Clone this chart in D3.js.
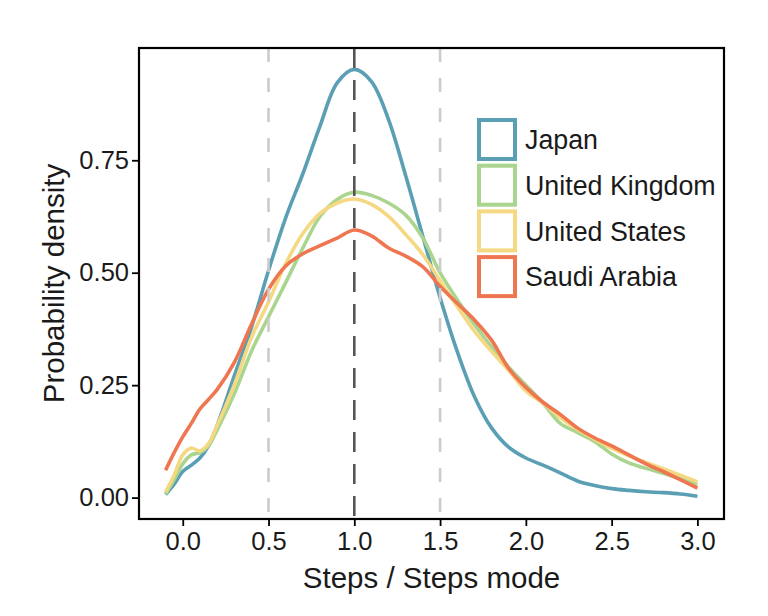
<!DOCTYPE html>
<html>
<head>
<meta charset="utf-8">
<script src="https://cdn.jsdelivr.net/npm/d3@7"></script>
<style>
  html, body { margin: 0; padding: 0; background: #ffffff; }
  svg { display: block; }
  text { font-family: "Liberation Sans", Arial, Helvetica, sans-serif; fill: #1a1a1a; }
</style>
</head>
<body>
<svg id="chart" width="768" height="616"></svg>
<script>
// ---- data ----
const xValues = [-0.1, -0.05, 0, 0.05, 0.1, 0.15, 0.2, 0.3, 0.4, 0.5, 0.6, 0.7, 0.8, 0.9, 1.0,
  1.1, 1.2, 1.3, 1.4, 1.5, 1.6, 1.7, 1.8, 1.9, 2.0, 2.1, 2.2, 2.3, 2.4, 2.5, 2.6, 2.7, 2.8, 2.9, 3.0];

const japan = [0.007, 0.03, 0.058, 0.072, 0.088, 0.115, 0.16, 0.27, 0.378, 0.505, 0.622, 0.72, 0.826, 0.922, 0.952,
  0.925, 0.84, 0.715, 0.58, 0.445, 0.325, 0.225, 0.155, 0.112, 0.088, 0.072, 0.055, 0.037, 0.027, 0.02, 0.016, 0.013, 0.011, 0.008, 0.003];

const unitedKingdom = [0.008, 0.04, 0.075, 0.095, 0.10, 0.115, 0.15, 0.23, 0.325, 0.402, 0.478, 0.555, 0.625, 0.663, 0.679,
  0.672, 0.655, 0.628, 0.577, 0.5, 0.44, 0.385, 0.335, 0.29, 0.25, 0.21, 0.165, 0.145, 0.125, 0.097, 0.077, 0.065, 0.054, 0.042, 0.029];

const unitedStates = [0.012, 0.05, 0.095, 0.11, 0.104, 0.12, 0.16, 0.25, 0.355, 0.435, 0.52, 0.587, 0.632, 0.655, 0.664,
  0.652, 0.625, 0.585, 0.54, 0.482, 0.425, 0.37, 0.325, 0.283, 0.237, 0.21, 0.178, 0.152, 0.13, 0.11, 0.093, 0.078, 0.064, 0.05, 0.035];

const saudiArabia = [0.061, 0.10, 0.135, 0.165, 0.197, 0.218, 0.24, 0.30, 0.385, 0.463, 0.515, 0.542, 0.56, 0.577, 0.595,
  0.582, 0.555, 0.537, 0.513, 0.47, 0.432, 0.395, 0.35, 0.287, 0.245, 0.212, 0.185, 0.155, 0.133, 0.115, 0.095, 0.075, 0.058, 0.04, 0.021];

const seriesNames = ["Japan", "United Kingdom", "United States", "Saudi Arabia"];
const seriesColors = ["#5b9fb4", "#aad58e", "#f5d882", "#ee7650"];
const xTicks = [0.0, 0.5, 1.0, 1.5, 2.0, 2.5, 3.0];
const yTicks = [0.00, 0.25, 0.50, 0.75];
const refLines = [0.5, 1.0, 1.5];

// ---- layout ----
const svg = d3.select("#chart");
const panel = { left: 139, right: 724, top: 48, bottom: 519 };

const allSeries = [japan, unitedKingdom, unitedStates, saudiArabia];
const xExt = d3.extent(xValues);
const yExt = [0, d3.max(allSeries.flat())];
const xPad = (xExt[1] - xExt[0]) * 0.05;
const yPad = (yExt[1] - yExt[0]) * 0.05;

const x = d3.scaleLinear().domain([xExt[0] - xPad, xExt[1] + xPad]).range([panel.left, panel.right]);
const y = d3.scaleLinear().domain([yExt[0] - yPad, yExt[1] + yPad]).range([panel.bottom, panel.top]);

svg.append("rect").attr("width", 768).attr("height", 616).attr("fill", "#ffffff");

// curves
const line = d3.line()
  .x(d => x(d[0]))
  .y(d => y(d[1]))
  .curve(d3.curveCatmullRom.alpha(0.5));

const gCurves = svg.append("g");
allSeries.forEach((vals, i) => {
  gCurves.append("path")
    .datum(xValues.map((xv, j) => [xv, vals[j]]))
    .attr("fill", "none")
    .attr("stroke", seriesColors[i])
    .attr("stroke-width", 3.6)
    .attr("stroke-linejoin", "round")
    .attr("stroke-linecap", "butt")
    .attr("d", line);
});

// reference vertical dashed lines
svg.append("g").selectAll("line").data(refLines).join("line")
  .attr("x1", d => x(d)).attr("x2", d => x(d))
  .attr("y1", panel.top).attr("y2", panel.bottom)
  .attr("stroke", d => d === 1.0 ? "#555555" : "#cccccc")
  .attr("stroke-width", 2.6)
  .attr("stroke-dasharray", d => d === 1.0 ? "20,12" : "14,16");

// panel border
svg.append("rect")
  .attr("x", panel.left).attr("y", panel.top)
  .attr("width", panel.right - panel.left).attr("height", panel.bottom - panel.top)
  .attr("fill", "none").attr("stroke", "#000000").attr("stroke-width", 2.2);

// axes
const xAxis = d3.axisBottom(x).tickValues(xTicks).tickFormat(d3.format(".1f")).tickSizeOuter(0).tickSizeInner(7).tickPadding(6);
const yAxis = d3.axisLeft(y).tickValues(yTicks).tickFormat(d3.format(".2f")).tickSizeOuter(0).tickSizeInner(7).tickPadding(3);

const gx = svg.append("g").attr("transform", `translate(0,${panel.bottom})`).call(xAxis);
const gy = svg.append("g").attr("transform", `translate(${panel.left},0)`).call(yAxis);
[gx, gy].forEach(g => {
  g.select(".domain").remove();
  g.selectAll(".tick line").attr("stroke", "#000").attr("stroke-width", 1.8);
  g.selectAll(".tick text").attr("fill", "#1a1a1a").style("font-size", "25.5px")
    .style("font-family", "'Liberation Sans', Arial, Helvetica, sans-serif");
});

// axis titles
svg.append("text")
  .attr("x", (panel.left + panel.right) / 2).attr("y", 588)
  .attr("text-anchor", "middle").style("font-size", "29.5px")
  .text("Steps / Steps mode");

svg.append("text")
  .attr("transform", `translate(64,${(panel.top + panel.bottom) / 2}) rotate(-90)`)
  .attr("text-anchor", "middle").style("font-size", "29.5px")
  .text("Probability density");

// legend
const legend = svg.append("g").attr("transform", "translate(477,118)");
const rowH = 45.7;
seriesNames.forEach((name, i) => {
  const gRow = legend.append("g").attr("transform", `translate(0,${i * rowH})`);
  gRow.append("rect")
    .attr("x", 2).attr("y", 2).attr("width", 36).attr("height", 39)
    .attr("fill", "#ffffff").attr("stroke", seriesColors[i]).attr("stroke-width", 4);
  gRow.append("text")
    .attr("x", 48).attr("y", 21.5).attr("dy", "0.36em")
    .style("font-size", "26.8px")
    .text(name);
});
</script>
</body>
</html>
